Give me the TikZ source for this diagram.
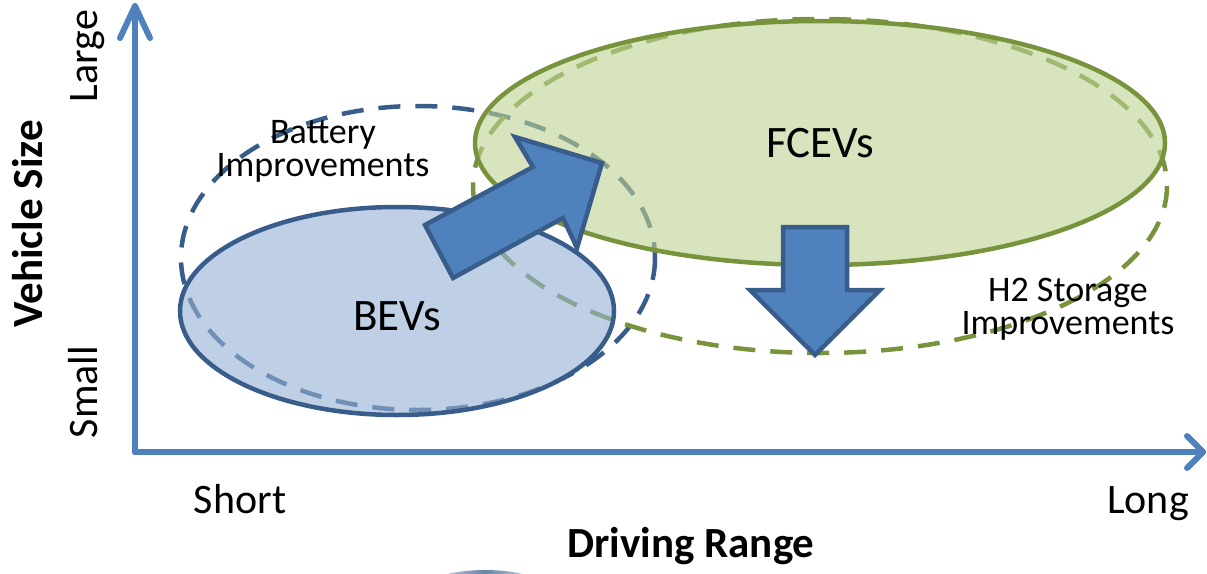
\documentclass[tikz,border=0pt]{standalone}
\usepackage{fontspec}
\setmainfont{Carlito}
\definecolor{axisblue}{HTML}{4F81BD}
\definecolor{edgeblue}{HTML}{385D8A}
\definecolor{edgegreen}{HTML}{77933C}
\definecolor{bevfill}{RGB}{148,177,213}
\definecolor{fcevfill}{RGB}{188,210,145}
\tikzset{
  axisline/.style={axisblue, line width=6pt, line cap=round, line join=round},
  dashring/.style={line width=4.5pt, dash pattern=on 22pt off 15pt},
  blob/.style={line width=4.5pt, fill opacity=0.6},
  blockarrow/.style={fill=axisblue, draw=edgeblue, line width=4.5pt, line join=miter},
  lbl/.style={inner sep=0pt, anchor=base, align=center},
  bigtext/.style={font=\fontsize{45}{54}\selectfont},
  midtext/.style={font=\fontsize{36}{33}\selectfont},
  axtext/.style={font=\fontsize{42}{50}\selectfont},
  axbold/.style={font=\fontsize{43}{50}\selectfont\bfseries},
}
\begin{document}
\begin{tikzpicture}[x=1pt,y=-1pt]
\useasboundingbox (0,0) rectangle (1207,573);
% cut-off shape at the bottom edge
\shade[left color=white, right color=white, middle color=edgeblue!75] (485,604) ellipse [x radius=80, y radius=34];
% dashed improvement ellipses
\draw[dashring, edgeblue] (418,258) ellipse [x radius=237, y radius=152];
\draw[dashring, edgegreen] (820,186) ellipse [x radius=347, y radius=167];
% vehicle ellipses
\draw[blob, draw=edgeblue, fill=bevfill] (397,311) ellipse [x radius=217, y radius=104];
\draw[blob, draw=edgegreen, fill=fcevfill] (820,143) ellipse [x radius=345, y radius=122];
% block arrows
\draw[blockarrow] (425,225) -- (533,167) -- (515,137) -- (602,163) -- (577,248) -- (563,218) -- (453,278) -- cycle;
\draw[blockarrow] (783,227) -- (847,227) -- (847,290) -- (880,290) -- (815,355) -- (750,290) -- (783,290) -- cycle;
% axes
\coordinate (origin) at (135,452);
\coordinate (ytip) at (135,6);
\coordinate (xtip) at (1203,452);
\draw[axisline] (origin) -- (ytip);
\draw[axisline] (ytip) ++(-15,32) -- (ytip) -- ++(15,32);
\draw[axisline] (origin) -- (xtip);
\draw[axisline] (xtip) ++(-16,-16) -- (xtip) -- ++(-16,16);
% labels
\node[lbl, bigtext] (fcevs) at (820,157) {FCEVs};
\node[lbl, bigtext] (bevs) at (397,330) {BEVs};
\node[lbl, midtext] (battery) at (323,176) {Battery\\Improvements};
\node[lbl, midtext] (h2) at (1068,334) {H2 Storage\\Improvements};
\node[lbl, axtext] (short) at (240,513) {Short};
\node[lbl, axtext] (long) at (1148,513) {Long};
\node[lbl, axbold] (range) at (691,557) {Driving Range};
\node[lbl, axtext, rotate=90] (large) at (97,56) {Large};
\node[lbl, axtext, rotate=90] (small) at (97,392) {Small};
\node[lbl, axbold, rotate=90] (vsize) at (42,224) {Vehicle Size};
\end{tikzpicture}
\end{document}
